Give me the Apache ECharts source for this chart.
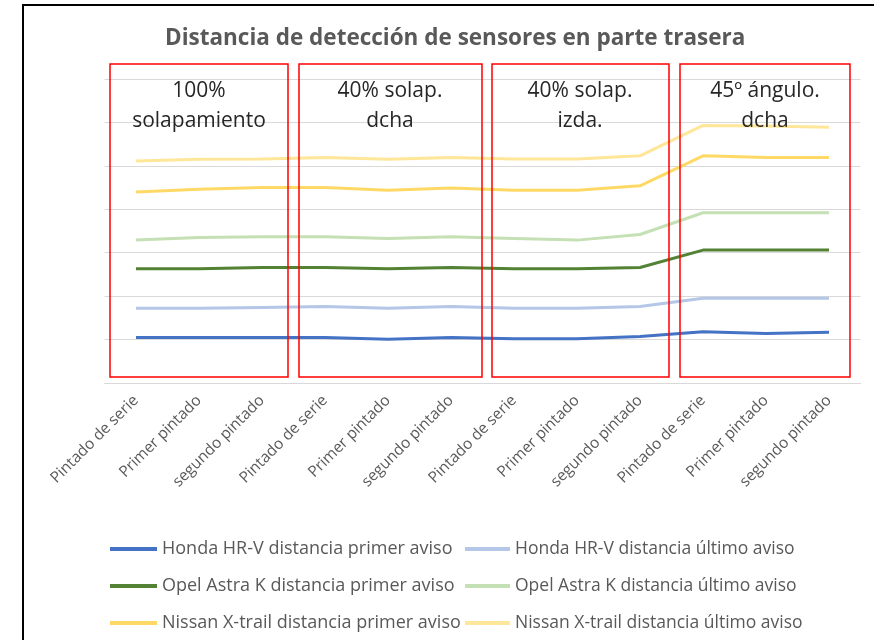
<!DOCTYPE html>
<html>
<head>
<meta charset="utf-8">
<script src="https://cdn.jsdelivr.net/npm/echarts@6/dist/echarts.min.js"></script>
<style>html,body{margin:0;padding:0;background:#fff}#c{width:874px;height:640px}</style>
</head>
<body>
<div id="c"></div>
<script>
var categories = ['Pintado de serie','Primer pintado','segundo pintado','Pintado de serie','Primer pintado','segundo pintado','Pintado de serie','Primer pintado','segundo pintado','Pintado de serie','Primer pintado','segundo pintado'];
var seriesNames = ['Honda HR-V distancia primer aviso','Honda HR-V distancia último aviso','Opel Astra K distancia primer aviso','Opel Astra K distancia último aviso','Nissan X-trail distancia primer aviso','Nissan X-trail distancia último aviso'];
var hondaPrimer  = [10.5,10.5,10.5,10.5,10.1,10.5,10.2,10.2,10.7,11.8,11.4,11.7];
var hondaUltimo  = [17.2,17.2,17.4,17.6,17.2,17.6,17.2,17.2,17.6,19.5,19.5,19.5];
var opelPrimer   = [26.3,26.3,26.6,26.6,26.3,26.6,26.3,26.3,26.6,30.6,30.6,30.6];
var opelUltimo   = [32.9,33.5,33.7,33.7,33.3,33.7,33.3,32.9,34.2,39.2,39.2,39.2];
var nissanPrimer = [44.0,44.6,45.0,45.0,44.4,44.9,44.4,44.4,45.4,52.3,51.9,51.9];
var nissanUltimo = [51.1,51.5,51.6,51.9,51.5,51.9,51.6,51.6,52.3,59.3,59.2,58.9];
var groupLabels = ['100%\nsolapamiento','40% solap.\ndcha','40% solap.\nizda.','45º ángulo.\ndcha'];
var titleText = 'Distancia de detección de sensores en parte trasera';

var colors = ['#4472C4','#B4C7E7','#548235','#C5E0B4','#FFD966','#FFE699'];
var allData = [hondaPrimer,hondaUltimo,opelPrimer,opelUltimo,nissanPrimer,nissanUltimo];
var FONT = 'Open Sans';

var series = allData.map(function(d,i){
  return {name: seriesNames[i], type:'line', data:d, symbol:'none', smooth:false,
    lineStyle:{width:3,color:colors[i]}, itemStyle:{color:colors[i]}, z: 2};
});

var boxes = [[110,64,178,313],[299,64,183,313],[492,64,177,313],[680,64,170,313]];
var labelCenters = [199,390,580,765];
var graphics = [{type:'rect', shape:{x:23,y:5,width:900,height:700}, style:{fill:'none',stroke:'#000',lineWidth:2}, silent:true, z:100}];
boxes.forEach(function(b,i){
  graphics.push({type:'rect', shape:{x:b[0],y:b[1],width:b[2],height:b[3]}, style:{fill:'none',stroke:'#FF0000',lineWidth:1.5}, z:100});
  graphics.push({type:'text', x:labelCenters[i], y:76, style:{text:groupLabels[i], font:'21px "'+FONT+'"', fill:'#262626', textAlign:'center', textVerticalAlign:'top', lineHeight:30}, z:100});
});

var chart = echarts.init(document.getElementById('c'));
chart.setOption({
  animation:false,
  backgroundColor:'#fff',
  title:{text:titleText, left:160, top:22, textStyle:{fontFamily:FONT, fontSize:22.5, fontWeight:'bold', color:'#595959'}},
  grid:{left:104.5, right:13.5, top:79, bottom:257, containLabel:false},
  xAxis:{type:'category', data:categories, boundaryGap:true,
    axisLine:{lineStyle:{color:'#D9D9D9'}}, axisTick:{show:false},
    axisLabel:{interval:0, rotate:45, margin:15, fontFamily:FONT, fontSize:15.5, color:'#595959'}},
  yAxis:{type:'value', min:0, max:70, interval:10, axisLabel:{show:false}, axisLine:{show:false}, axisTick:{show:false},
    splitLine:{lineStyle:{color:'#D9D9D9',width:1}}},
  legend:[
    {data:[seriesNames[0],seriesNames[2],seriesNames[4]], orient:'vertical', left:105, top:535, itemGap:19, icon:'rect', itemWidth:47, itemHeight:4,
      textStyle:{fontFamily:FONT, fontSize:18, color:'#595959'}},
    {data:[seriesNames[1],seriesNames[3],seriesNames[5]], orient:'vertical', left:460, top:535, itemGap:19, icon:'rect', itemWidth:45, itemHeight:4,
      textStyle:{fontFamily:FONT, fontSize:17.5, color:'#595959'}}
  ],
  series: series,
  graphic: graphics
});
</script>
</body>
</html>
